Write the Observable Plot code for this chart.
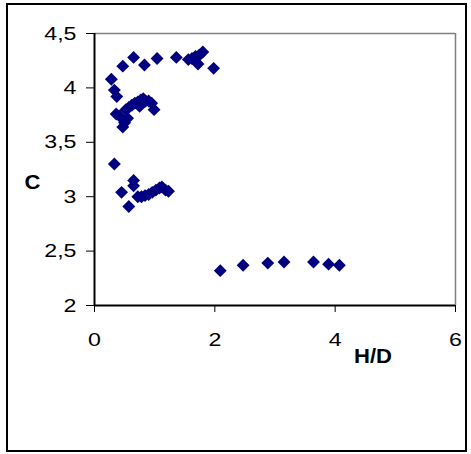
<!DOCTYPE html>
<html><head><meta charset="utf-8">
<script src="https://cdn.jsdelivr.net/npm/d3@7"></script>
<script src="https://cdn.jsdelivr.net/npm/@observablehq/plot@0.6"></script>
<style>
html,body{margin:0;padding:0;background:#fff;}
#wrap{position:relative;width:471px;height:454px;overflow:hidden;}
#frame{position:absolute;left:6px;top:3px;width:457px;height:445px;border:2px solid #000;pointer-events:none;}
</style></head><body><div id="wrap"><div id="frame"></div></div>
<script>
// Upper branch
const upperHD = [0.28,0.33,0.37,0.47,0.65,0.83,1.04,1.36,1.56,1.62,1.68,1.72,1.74,1.80,1.98];
const upperC  = [4.08,3.98,3.92,4.20,4.28,4.21,4.27,4.28,4.26,4.27,4.29,4.22,4.30,4.33,4.18];
// Middle branch
const midHD = [0.36,0.42,0.47,0.50,0.55,0.52,0.57,0.62,0.67,0.72,0.75,0.77,0.81,0.85,0.90,0.95,0.99];
const midC  = [3.76,3.74,3.64,3.68,3.72,3.80,3.82,3.84,3.86,3.87,3.83,3.89,3.90,3.88,3.88,3.86,3.80];
// Lower branch
const lowHD = [0.33,0.45,0.57,0.65,0.65,0.72,0.78,0.84,0.90,0.96,1.02,1.08,1.12,1.18,1.23];
const lowC  = [3.30,3.04,2.91,3.15,3.10,3.00,3.00,3.01,3.02,3.04,3.06,3.08,3.09,3.06,3.05];
// Right branch
const rightHD = [2.09,2.47,2.88,3.15,3.64,3.89,4.07];
const rightC  = [2.32,2.37,2.39,2.40,2.40,2.38,2.37];

const xTicks = [0,2,4,6];
const yTicks = [2,2.5,3,3.5,4,4.5];
const xLabel = "H/D";
const yLabel = "C";

const rows = [];
[[upperHD,upperC],[midHD,midC],[lowHD,lowC],[rightHD,rightC]].forEach(([xs,ys]) =>
  xs.forEach((x,i) => rows.push({hd:x, c:ys[i]})));

const fmt = d => String(d).replace(".", ",");

const plot = Plot.plot({
  width: 471, height: 454,
  marginLeft: 94, marginRight: 16, marginTop: 33, marginBottom: 149,
  x: {domain: [0,6]},
  y: {domain: [2,4.5]},
  style: {fontFamily: "'Liberation Sans', Arial, sans-serif", fontSize: "19px", color: "#000", background: "transparent"},
  marks: [
    Plot.ruleY([4.5], {stroke: "#808080", strokeWidth: 1.5}),
    Plot.ruleX([6], {stroke: "#808080", strokeWidth: 1.5}),
    Plot.ruleX([0], {stroke: "#000", strokeWidth: 2}),
    Plot.ruleY([2], {stroke: "#000", strokeWidth: 2}),
    Plot.axisY({ticks: yTicks, tickFormat: fmt, tickSize: 8, tickPadding: 10, label: null, fontSize: 19}),
    Plot.axisX({ticks: xTicks, tickFormat: fmt, tickSize: 7, tickPadding: 20, label: null, fontSize: 19}),
    Plot.dot(rows, {x: "hd", y: "c", symbol: "diamond2", r: 5.8, fill: "#000080", stroke: "none"}),
    Plot.text([yLabel], {text: d => d, frameAnchor: "left", textAnchor: "middle", dx: -62, dy: 13, fontWeight: "bold", fontSize: 21}),
    Plot.text([xLabel], {text: d => d, frameAnchor: "bottom", textAnchor: "middle", dx: 98, dy: 57, fontWeight: "bold", fontSize: 21})
  ]
});
document.getElementById("wrap").prepend(plot);
// widen glyphs horizontally like the reference
d3.select(plot).selectAll("text").each(function() {
  const t = this.getAttribute("transform");
  const g = this.parentNode;
  const bold = g && g.getAttribute && g.getAttribute("font-weight") === "bold";
  const s = bold ? 1.05 : 1.22;
  if (t) this.setAttribute("transform", t + ` scale(${s},1)`);
});
</script>
</body></html>
